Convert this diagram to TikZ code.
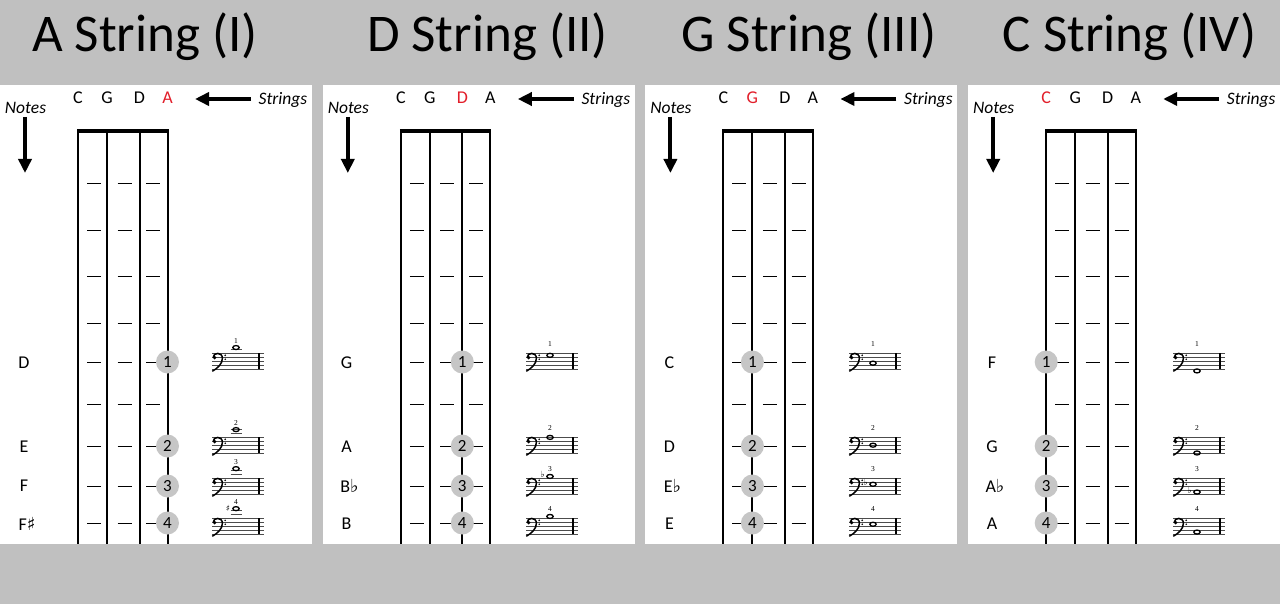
\documentclass[tikz,border=0pt]{standalone}
\usepackage{fontspec}
\setmainfont{Carlito}
\newfontfamily\musym{DejaVu Sans}
\newfontfamily\numserif{Liberation Serif}
\usetikzlibrary{arrows.meta}
\definecolor{bggray}{RGB}{192,192,192}
\definecolor{fingergray}{RGB}{198,198,198}
\definecolor{strred}{RGB}{226,30,42}
\tikzset{
  stringline/.style={line width=2pt},
  nutline/.style={line width=4pt},
  fretdash/.style={line width=1pt},
  finger/.style={circle, fill=fingergray, minimum size=23pt, inner sep=0pt, font=\fontsize{17}{17}\selectfont},
  strlabel/.style={font=\fontsize{18}{18}\selectfont},
  notelabel/.style={font=\fontsize{18}{18}\selectfont},
  italabel/.style={font=\fontsize{17.5}{17.5}\selectfont\itshape},
  titletext/.style={font=\fontsize{53}{53}\selectfont, anchor=base},
  bigarrow/.style={line width=4pt, -{Triangle[length=14pt,width=13pt]}},
  staffline/.style={line width=0.6pt, black!70},
  accid/.style={font=\musym\fontsize{8.5}{8.5}\selectfont, inner sep=0pt},
  fingnum/.style={font=\numserif\fontsize{7.5}{7.5}\selectfont, inner sep=0pt},
}
\newcommand\sh{{\musym ♯}}
\newcommand\fl{{\musym ♭}}
% frame of one panel: #1 left x, #2 name, #3 string index of the circles (1..4)
\newcommand\fbframe[3]{%
  \fill[white] (#1,85) rectangle ++(311.7,459);
  \edef\coff{\ifcase#3\or0\or29\or61.5\or89.5\fi}%
  \pgfmathsetmacro\cx{#1+78+\coff}%
  \foreach \k/\off/\l in {1/0/C,2/29/G,3/61.5/D,4/89.5/A}{%
    \ifnum\k=#3 \def\col{strred}\else\def\col{black}\fi
    \node[strlabel, text=\col] (#2-sl\k) at ({#1+78+\off},98) {\l};
    \coordinate (#2-st\k) at ({#1+78+\off},131);
    \coordinate (#2-sb\k) at ({#1+78+\off},544);
    \draw[stringline] (#2-st\k) -- (#2-sb\k);
  }
  \coordinate (#2-nutl) at ({#1+77},131);
  \coordinate (#2-nutr) at ({#1+168.5},131);
  \draw[nutline] (#2-nutl) -- (#2-nutr);
  \node[italabel] (#2-notes) at ({#1+25.5},107.5) {Notes};
  \coordinate (#2-na) at ({#1+25},117);
  \coordinate (#2-nb) at ({#1+25},173);
  \draw[bigarrow] (#2-na) -- (#2-nb);
  \node[italabel] (#2-strings) at ({#1+283},99.5) {Strings};
  \coordinate (#2-sa) at ({#1+251},99);
  \coordinate (#2-sb) at ({#1+195},99);
  \draw[bigarrow] (#2-sa) -- (#2-sb);
  \foreach \r in {184,231,276,323,362,404,446,486,523}{%
    \foreach \c in {16,46.5,75.3}{%
      \draw[fretdash] ({#1+78+\c-7},\r) -- ({#1+78+\c+7},\r);
    }
  }
  \foreach \r/\n in {362/1,446/2,486/3,523/4}{%
    \node[finger] (#2-f\n) at (\cx,\r) {\n};
  }
}
% small bass staff: #1 name, #2 x, #3 bottom line y, #4 step, #5 accidental 0/1/2, #6 ledgers, #7 finger
\newcommand\bassstaff[7]{%
  \pgfmathsetmacro\sx{#2}%
  \pgfmathsetmacro\sb{#3}%
  \pgfmathsetmacro\st{#3-15.6}%
  \pgfmathsetmacro\fline{#3-11.7}%
  \pgfmathsetmacro\ny{#3-(#4)*1.95}%
  \pgfmathsetmacro\nx{#2+24}%
  \pgfmathsetmacro\fy{min(\st-9,\ny-7)}%
  \foreach \i in {0,...,4}{\draw[staffline] ({\sx},{\sb-\i*3.9}) -- ({\sx+52},{\sb-\i*3.9});}
  \draw[line width=1.4pt] ({\sx+47},{\st}) -- ({\sx+47},{\sb});
  \fill ({\sx+2.6},{\fline+0.3}) circle (1.9);
  \draw[line width=1.5pt] ({\sx+1.2},{\fline}) .. controls ({\sx+1.2},{\fline-5}) and ({\sx+10.2},{\fline-5.6}) .. ({\sx+10.4},{\fline+0.8}) .. controls ({\sx+10.6},{\fline+6.5}) and ({\sx+5.5},{\fline+11}) .. ({\sx+0.3},{\fline+14});
  \fill ({\sx+13.2},{\fline-1.95}) circle (0.9) ({\sx+13.2},{\fline+1.95}) circle (0.9);
  \ifnum#6>0 \foreach \k in {1,...,#6}{\draw[staffline] ({\nx-5.5},{\st-\k*3.9}) -- ({\nx+5.5},{\st-\k*3.9});}\fi
  \draw[line width=1.3pt] (\nx,\ny) ellipse [x radius=3.2, y radius=2];
  \ifcase#5\or \node[accid] (#1-acc) at ({\nx-8},{\ny}) {♯};\or \node[accid] (#1-acc) at ({\nx-7.5},{\ny-2}) {♭};\fi
  \node[fingnum] (#1-num) at (\nx,\fy) {#7};
}
\begin{document}
\begin{tikzpicture}[x=1pt,y=-1pt]
\fill[bggray] (0,0) rectangle (1280,604);
\useasboundingbox (0,0) rectangle (1280,604);
% titles
\node[titletext] (t1) at (145,52) {A String (I)};
\node[titletext] (t2) at (487.5,52) {D String (II)};
\node[titletext] (t3) at (809,52) {G String (III)};
\node[titletext] (t4) at (1129.5,52) {C String (IV)};
% panel 1
\fbframe{0}{p1}{4}
\node[notelabel] (p1-l1) at (24,363) {D};
\node[notelabel] (p1-l2) at (24,447) {E};
\node[notelabel] (p1-l3) at (24,486) {F};
\node[notelabel] (p1-l4) at (27,524) {F\sh};
\bassstaff{p1-m1}{212}{369}{11}{0}{1}{1}
\bassstaff{p1-m2}{212}{453}{12}{0}{2}{2}
\bassstaff{p1-m3}{212}{494}{13}{0}{2}{3}
\bassstaff{p1-m4}{212}{534}{13}{1}{2}{4}
% panel 2
\fbframe{322.8}{p2}{3}
\node[notelabel] (p2-l1) at (346.5,363) {G};
\node[notelabel] (p2-l2) at (346.5,447) {A};
\node[notelabel] (p2-l3) at (349.5,486) {B\fl};
\node[notelabel] (p2-l4) at (346.5,524) {B};
\bassstaff{p2-m1}{526}{369}{7}{0}{0}{1}
\bassstaff{p2-m2}{526}{453}{8}{0}{0}{2}
\bassstaff{p2-m3}{526}{494}{9}{2}{0}{3}
\bassstaff{p2-m4}{526}{534}{9}{0}{0}{4}
% panel 3
\fbframe{645.4}{p3}{2}
\node[notelabel] (p3-l1) at (669.5,363) {C};
\node[notelabel] (p3-l2) at (669.5,447) {D};
\node[notelabel] (p3-l3) at (672.5,486) {E\fl};
\node[notelabel] (p3-l4) at (669.5,524) {E};
\bassstaff{p3-m1}{849}{369}{3}{0}{0}{1}
\bassstaff{p3-m2}{849}{453}{4}{0}{0}{2}
\bassstaff{p3-m3}{849}{494}{5}{2}{0}{3}
\bassstaff{p3-m4}{849}{534}{5}{0}{0}{4}
% panel 4
\fbframe{968.2}{p4}{1}
\node[notelabel] (p4-l1) at (992,363) {F};
\node[notelabel] (p4-l2) at (992,447) {G};
\node[notelabel] (p4-l3) at (995,486) {A\fl};
\node[notelabel] (p4-l4) at (992,524) {A};
\bassstaff{p4-m1}{1173}{369}{-1}{0}{0}{1}
\bassstaff{p4-m2}{1173}{453}{0}{0}{0}{2}
\bassstaff{p4-m3}{1173}{494}{1}{2}{0}{3}
\bassstaff{p4-m4}{1173}{534}{1}{0}{0}{4}
\end{tikzpicture}
\end{document}
